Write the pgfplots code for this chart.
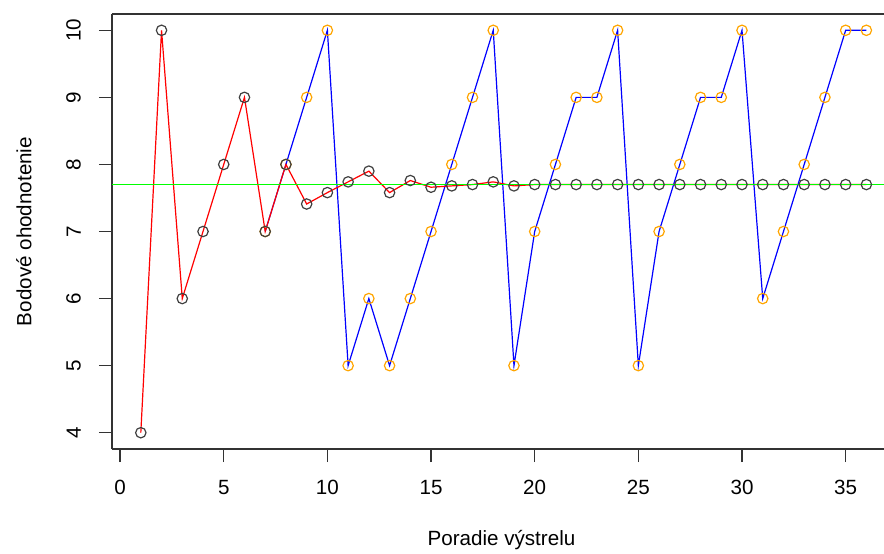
\documentclass[border=0pt]{standalone}
\usepackage{fontspec}
\setmainfont{Liberation Sans}
\usepackage{pgfplots}
\usepackage{pgfplotstable}
\pgfplotsset{compat=1.18}

\definecolor{rred}{HTML}{FF0000}
\definecolor{rblue}{HTML}{0000FF}
\definecolor{rgreen}{HTML}{00FF00}
\definecolor{rorange}{HTML}{FFA500}

% priemer (cierne body, cervena ciara)
\pgfplotstableread{
x y
1 4
2 10
3 6
4 7
5 8
6 9
7 7
8 8
9 7.41
10 7.58
11 7.74
12 7.90
13 7.58
14 7.76
15 7.66
16 7.68
17 7.70
18 7.74
19 7.68
20 7.7
21 7.7
22 7.7
23 7.7
24 7.7
25 7.7
26 7.7
27 7.7
28 7.7
29 7.7
30 7.7
31 7.7
32 7.7
33 7.7
34 7.7
35 7.7
36 7.7
}\priemer

% vystrely (oranzove body, modra ciara)
\pgfplotstableread{
x y
7 7
8 8
9 9
10 10
11 5
12 6
13 5
14 6
15 7
16 8
17 9
18 10
19 5
20 7
21 8
22 9
23 9
24 10
25 5
26 7
27 8
28 9
29 9
30 10
31 6
32 7
33 8
34 9
35 10
36 10
}\vystrely

\begin{document}
\begin{tikzpicture}
\begin{axis}[
    scale only axis,
    width=386pt, height=217.5pt,
    xmin=-0.39, xmax=36.85,
    ymin=3.757, ymax=10.243,
    axis y line*=left,
    xtick={0,5,...,35},
    ytick={4,5,...,10},
    xtick pos=bottom,
    tick align=outside,
    major tick length=6.5pt,
    tick style={black!80, line width=0.6pt},
    axis line style={black!80, line width=0.6pt},
    /pgf/number format/assume math mode=true,
    ticklabel style={font=\fontsize{10.3}{12}\selectfont},
    xticklabel style={yshift=-5.5pt},
    yticklabel style={xshift=-5.5pt, rotate=90, anchor=south},
    xlabel={Poradie výstrelu},
    ylabel={Bodové ohodnotenie},
    label style={font=\fontsize{10.3}{12}\selectfont},
    xlabel style={at={(rel axis cs:0.5045,0)}, anchor=center, yshift=-45.5pt},
    ylabel style={at={(rel axis cs:0,0.5)}, anchor=center, yshift=44pt},
    clip=false,
]
\coordinate (sw) at (rel axis cs:0,0);
\coordinate (ne) at (rel axis cs:1,1);
\addplot[rblue, line width=0.6pt, no marks] table[x=x,y=y] {\vystrely};
\addplot[rorange, only marks, mark=o, mark size=2.6pt, mark options={line width=0.6pt}]
    table[x=x,y=y,skip first n=1] {\vystrely};
\addplot[rred, line width=0.6pt, no marks] table[x=x,y=y] {\priemer};
\addplot[black!75, only marks, mark=o, mark size=2.6pt, mark options={line width=0.6pt}]
    table[x=x,y=y] {\priemer};
\addplot[rgreen, line width=0.7pt, no marks] coordinates {(-0.39,7.7) (36.85,7.7)};
\end{axis}
\pgfresetboundingbox
\path[use as bounding box] ([shift={(-56pt,-52pt)}]sw) rectangle ([shift={(0pt,7pt)}]ne);
\end{tikzpicture}
\end{document}
